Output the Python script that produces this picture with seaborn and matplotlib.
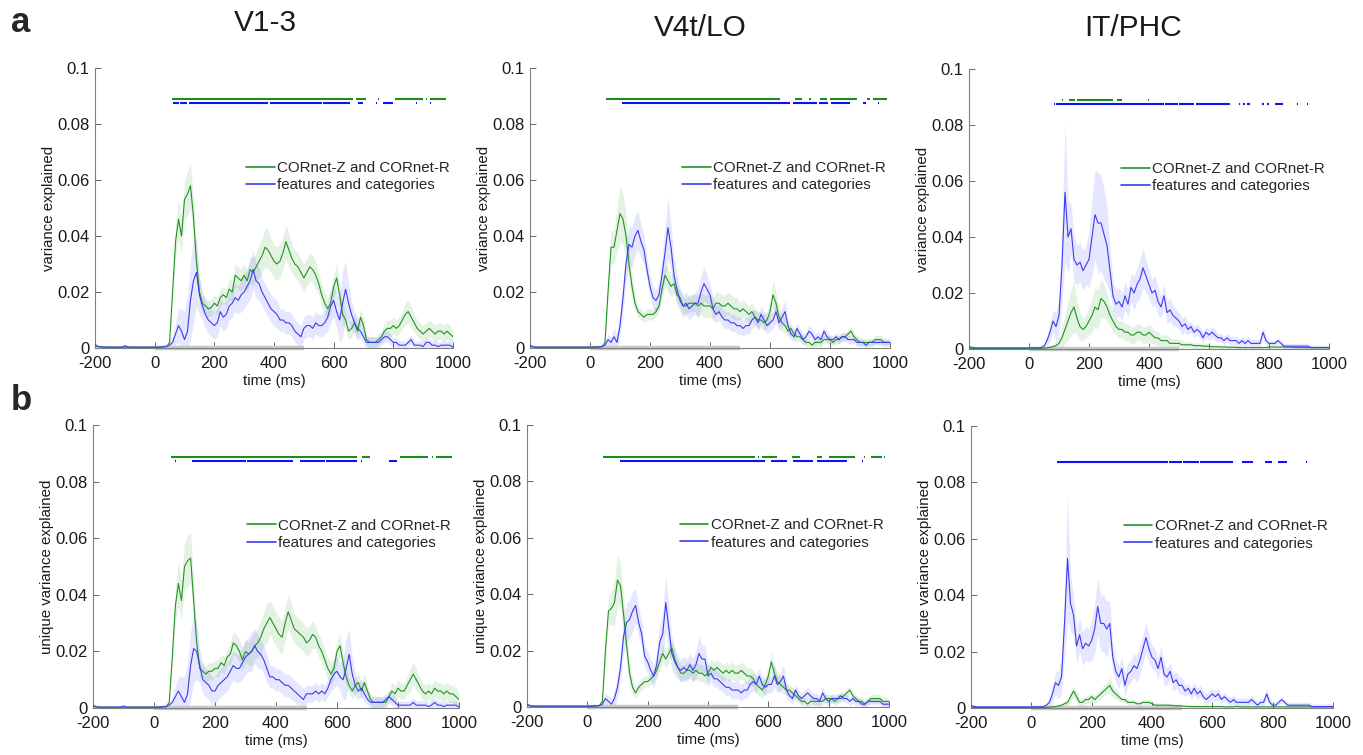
import numpy as np
import pandas as pd
import matplotlib
matplotlib.use("Agg")
import matplotlib.pyplot as plt
from matplotlib.ticker import FuncFormatter
import seaborn as sns

# time axis (ms), one sample every 10 ms
time_ms = list(range(-200, 1001, 10))

# all curve values below are in units of 0.001 (variance explained)
# ---------- row a : variance explained ----------
v1_a_net = [0.5, 0.5, 0.4, 0.3, 0.3, 0.3, 0.3, 0.3, 0.3, 0.3,
            0.3, 0.3, 0.3, 0.3, 0.3, 0.3, 0.3, 0.3, 0.3, 0.3,
            0.3, 0.3, 0.3, 0.4, 0.5, 2, 20, 38, 46, 40,
            53, 55, 58, 47, 31, 20, 16, 15, 14, 14.5,
            16, 15, 18, 19, 18, 21, 20, 26, 25, 24,
            26, 24, 28, 27, 29, 31, 33, 36, 35, 33,
            31, 30, 31, 34, 38, 35, 32, 30, 29, 27,
            25, 27, 29, 28, 26, 23, 19, 16, 14, 16,
            22, 25, 19, 12, 10, 6, 7, 9, 6, 11,
            8, 3, 2, 2, 2, 3, 4, 6, 7, 7,
            8, 7, 8, 10, 12, 13, 11, 9, 7, 6,
            5, 6, 7, 6, 5, 6, 6, 5, 6, 5,
            4]
v1_a_net_err = [0.3] * 20 + [
            0.3, 0.3, 0.3, 0.3, 0.3, 1, 3, 6, 7, 6,
            7, 8, 8, 7, 5, 4, 3, 3, 3, 3,
            3, 3, 3, 3, 3, 4, 4, 4, 4, 4,
            4, 4, 5, 5, 5, 6, 6, 7, 7, 6,
            6, 6, 6, 6, 6, 6, 5, 5, 5, 5,
            5, 5, 5, 5, 5, 4, 4, 4, 4, 4,
            4, 5, 4, 4, 3, 3, 3, 3, 3, 3,
            3, 2, 2, 2, 2, 2, 2, 3, 3, 3,
            3, 3, 3, 3, 4, 4, 4, 3, 3, 3,
            3, 3, 3, 3, 3, 3, 3, 3, 3, 3,
            2]
v1_a_feat = [1.2, 0.6, 0.4, 0.4, 0.3, 0.3, 0.3, 0.3, 0.3, 0.3,
             0.8, 0.4, 0.3, 0.3, 0.3, 0.3, 0.3, 0.3, 0.3, 0.3,
             0.3, 0.3, 0.3, 0.5, 0.6, 1, 2, 5, 8, 6,
             3, 6, 17, 24, 27, 19, 15, 12, 10, 9,
             8, 9, 13, 11, 12, 15, 16, 18, 17, 19,
             20, 22, 24, 28, 24, 23, 20, 18, 16, 14,
             13, 12, 10, 10, 9, 9, 8, 6, 5, 4,
             7, 8, 8, 7, 9, 8, 8, 9, 11, 15,
             17, 13, 10, 16, 21, 16, 12, 9, 7, 6,
             4, 2, 2, 2, 2, 2, 3, 4, 4, 3,
             2, 2, 1, 1, 1, 2, 3, 1, 1, 1,
             0.5, 2, 2, 1, 1, 0.5, 1, 1, 1, 1,
             0.3]
v1_a_feat_err = [0.5] * 20 + [
             0.5, 0.5, 0.5, 0.5, 0.5, 1, 2, 4, 6, 8,
             10, 12, 14, 15, 12, 7, 5, 5, 5, 5,
             5, 5, 5, 5, 5, 5, 5, 5, 5, 6,
             6, 6, 7, 7, 6, 6, 5, 5, 5, 5,
             5, 5, 4, 4, 4, 4, 4, 4, 4, 4,
             4, 4, 4, 4, 4, 4, 4, 4, 5, 6,
             6, 6, 8, 12, 10, 7, 5, 4, 4, 3,
             2, 2, 2, 2, 2, 2, 2, 2, 2, 2,
             1.5, 1.5, 1.5, 1.5, 1.5, 1.5, 1.5, 1.5, 1.5, 1.5,
             1.5, 1.5, 1.5, 1.5, 1.5, 1.5, 1.5, 1.5, 1.5, 1.5,
             1]

v4_a_net = [0.5, 0.4] + [0.3] * 18 + [
            0.3, 0.3, 0.3, 0.4, 0.5, 2, 20, 36, 36, 42,
            48, 46, 40, 30, 22, 16, 13, 12, 11, 12,
            12, 12, 13, 15, 21, 26, 24, 22, 23, 19,
            18, 15, 15, 16, 16, 16, 15, 16, 15, 15,
            15, 14, 16, 16, 15, 15, 16, 15, 14, 14,
            13, 14, 13, 12, 13, 11, 10, 10, 9, 10,
            13, 19, 16, 11, 9, 8, 6, 7, 5, 4,
            4, 3, 2, 2, 1, 2, 2, 2, 3, 3,
            3, 2, 3, 3, 4, 4, 5, 6, 4, 3,
            2, 2, 2, 2, 2, 3, 3, 3, 2, 2,
            2]
v4_a_net_err = [0.3] * 20 + [
            0.3, 0.3, 0.3, 0.3, 0.3, 1, 4, 6, 6, 8,
            10, 9, 8, 6, 5, 3, 2, 2, 2, 2,
            2, 2, 2, 2, 3, 4, 4, 4, 3, 3,
            3, 3, 3, 3, 3, 3, 4, 4, 4, 4,
            4, 4, 4, 4, 4, 4, 4, 4, 4, 4,
            3, 3, 3, 3, 3, 3, 3, 3, 3, 3,
            4, 5, 4, 3, 3, 3, 2, 2, 2, 2] + [1.5] * 30 + [1]
v4_a_feat = [1.0, 0.5] + [0.3] * 18 + [
             0.3, 0.3, 0.3, 0.4, 0.5, 1, 3, 2, 4, 2,
             8, 18, 30, 37, 36, 40, 42, 38, 35, 28,
             22, 18, 17, 19, 26, 34, 43, 36, 26, 21,
             17, 15, 16, 14, 15, 16, 16, 20, 23, 21,
             19, 14, 12, 13, 11, 10, 10, 9, 9, 8,
             8, 7, 8, 8, 10, 11, 9, 12, 10, 8,
             9, 10, 13, 9, 11, 13, 8, 5, 4, 7,
             5, 3, 4, 6, 5, 3, 4, 3, 6, 4,
             3, 3, 4, 3, 4, 4, 3, 3, 3, 2,
             2, 2, 1, 2, 2, 2, 2, 2, 2, 2,
             2]
v4_a_feat_err = [0.5] * 20 + [
             0.5, 0.5, 0.5, 0.5, 0.5, 1, 2, 2, 3, 3,
             4, 5, 6, 7, 7, 7, 7, 6, 5, 4,
             4, 4, 4, 5, 7, 9, 11, 8, 6, 5,
             4, 4, 4, 4, 4, 4, 5, 6, 6, 5,
             4, 4, 3, 3, 3, 3, 3, 3, 3, 3,
             3, 3, 3, 3, 3, 3, 3, 3, 3, 3,
             3, 3, 4, 3, 3, 4, 3, 2, 2, 2,
             2, 2, 2, 2, 2, 2, 2, 2, 2, 2] + [1.5] * 10 + [1] * 11

it_a_net = [0.2] * 20 + [
            0.2, 0.2, 0.2, 0.2, 0.2, 0.3, 0.4, 0.6, 0.8, 1.2,
            2, 4, 7, 10, 13, 15, 11, 8, 7, 8,
            10, 12, 15, 14, 18, 17, 15, 12, 10, 8,
            7, 7, 6, 6, 5, 5, 6, 6, 5, 5,
            6, 5, 4, 4, 3, 3, 3, 2, 2, 2,
            2, 1.5, 1.5, 1.5, 1.5, 1.2, 1.2, 1.2, 1, 1,
            1, 0.8, 0.8, 0.8, 0.7, 0.7, 0.7, 0.6, 0.6, 0.6,
            0.5, 0.5, 0.5, 0.5, 0.5, 0.5, 0.5, 0.5, 0.5, 0.5,
            0.7, 0.7, 0.7, 0.7, 0.7, 0.7, 0.7, 0.7, 0.6, 0.6,
            0.5, 0.5, 0.5, 0.5, 0.5, 0.5, 0.5, 0.5, 0.5, 0.5,
            0.5]
it_a_net_err = [0.2] * 20 + [
            0.2, 0.2, 0.2, 0.2, 0.2, 0.3, 0.5, 1, 1, 2,
            3, 4, 5, 7, 8, 9, 6, 5, 4, 4,
            5, 6, 7, 7, 7, 6, 5, 4, 4, 3,
            3, 3, 3, 3, 3, 3, 3, 3, 3, 3,
            3, 3, 2.5, 2.5, 2, 2, 2, 2, 1.5, 1.5,
            1.5, 1.5, 1, 1, 1, 1, 1, 1, 1, 1] + [0.7] * 10 + [0.5] * 31
it_a_feat = [0.8, 0.6] + [0.4] * 18 + [
             0.4, 0.4, 0.4, 0.4, 0.5, 1, 3, 6, 10, 8,
             12, 30, 56, 40, 43, 32, 30, 31, 28, 30,
             32, 40, 48, 45, 45, 41, 37, 28, 19, 16,
             17, 15, 19, 16, 22, 20, 23, 25, 29, 26,
             23, 20, 21, 17, 15, 19, 13, 14, 12, 11,
             10, 8, 9, 7, 8, 6, 7, 6, 4, 6,
             5, 6, 5, 4, 4, 3, 4, 3, 3, 3,
             2, 3, 2, 3, 2, 2, 2, 2, 6, 3,
             2, 2, 2, 3, 2, 1, 1, 1, 1, 1,
             1, 1, 1, 1, 0.5, 0.5, 0.5, 0.5, 0.5, 0.5,
             0.5]
it_a_feat_err = [0.5] * 20 + [
             0.5, 0.5, 0.5, 0.5, 0.5, 1, 2, 3, 4, 5,
             6, 14, 25, 13, 9, 8, 7, 7, 7, 7,
             10, 14, 16, 18, 17, 16, 14, 8, 5, 5,
             5, 5, 5, 5, 5, 6, 6, 7, 7, 6,
             5, 5, 5, 5, 4, 4, 4, 4, 4, 3,
             3, 3, 3, 2, 2, 2, 2, 2, 2, 2,
             2, 2, 2, 1.5, 1.5, 1.5, 1.5, 1.5, 1.5, 1.5,
             1.5, 1.5, 1.5, 1.5, 1.5, 1.5, 1.5, 1.5, 2, 1.5] + [1] * 20 + [0.5]

# ---------- row b : unique variance explained ----------
v1_b_net = [0.5, 0.4] + [0.3] * 18 + [
            0.3, 0.3, 0.3, 0.4, 0.5, 2, 18, 36, 44, 38,
            50, 52, 53, 38, 23, 14, 13, 12, 13, 13,
            14, 14, 16, 15, 18, 19, 23, 22, 20, 17,
            20, 19, 20, 22, 23, 25, 28, 30, 32, 30,
            28, 26, 25, 30, 34, 31, 28, 27, 26, 25,
            23, 24, 26, 25, 22, 20, 17, 14, 12, 14,
            20, 22, 16, 11, 8, 6, 8, 9, 6, 9,
            6, 3, 2, 2, 2, 2, 2, 4, 6, 5,
            7, 6, 6, 8, 10, 12, 10, 8, 6, 5,
            6, 5, 7, 6, 6, 5, 6, 5, 5, 4,
            3]
v1_b_net_err = [0.3] * 20 + [
            0.3, 0.3, 0.3, 0.3, 0.3, 1, 3, 6, 8, 7,
            8, 9, 9, 7, 5, 3, 3, 3, 3, 3,
            3, 3, 3, 3, 3, 4, 4, 4, 4, 4,
            4, 4, 5, 5, 5, 6, 6, 7, 6, 6,
            6, 6, 6, 6, 6, 6, 5, 5, 5, 5,
            5, 5, 5, 4, 4, 4, 4, 4, 4, 4,
            4, 4, 4, 3, 3, 3, 3, 3, 3, 3,
            2, 2, 2, 2, 2, 2, 2, 2, 3, 3,
            3, 3, 3, 3, 4, 4, 4, 3, 3, 3] + [3] * 10 + [2]
v1_b_feat = [1.0, 0.5, 0.3, 0.3, 0.3, 0.3, 0.3, 0.3, 0.3, 0.3,
             0.7, 0.3, 0.3, 0.3, 0.3, 0.3, 0.3, 0.3, 0.3, 0.3,
             0.3, 0.3, 0.3, 0.5, 0.5, 1, 2, 4, 6, 4,
             2, 5, 15, 21, 20, 15, 10, 9, 8, 6,
             6, 8, 9, 10, 11, 13, 15, 14, 14, 16,
             18, 19, 20, 22, 20, 19, 17, 14, 11, 11,
             10, 10, 9, 8, 8, 7, 6, 5, 4, 3,
             5, 5, 5, 6, 5, 6, 5, 7, 10, 12,
             13, 11, 10, 14, 19, 12, 8, 6, 7, 5,
             3, 2, 2, 2, 2, 2, 3, 4, 3, 2,
             1, 1, 1, 1, 1, 2, 1, 1, 1, 1,
             0.5, 1, 2, 1, 1, 0.5, 1, 1, 1, 1,
             0.3]
v1_b_feat_err = [0.5] * 20 + [
             0.5, 0.5, 0.5, 0.5, 0.5, 1, 2, 4, 5, 7,
             9, 11, 12, 12, 10, 6, 5, 5, 5, 5,
             5, 5, 5, 5, 5, 5, 5, 5, 5, 6,
             6, 6, 7, 6, 6, 5, 5, 5, 4, 4,
             4, 4, 4, 4, 4, 4, 4, 4, 4, 4,
             3, 3, 3, 3, 3, 3, 3, 3, 4, 5,
             5, 5, 7, 11, 9, 6, 4, 3, 3, 3] + [2] * 10 + [1.5] * 20 + [1]

v4_b_net = [0.5, 0.4] + [0.3] * 18 + [
            0.3, 0.3, 0.3, 0.4, 0.5, 2, 20, 34, 35, 37,
            45, 43, 33, 22, 12, 7, 5, 7, 8, 9,
            9, 10, 11, 13, 16, 19, 17, 19, 21, 17,
            14, 12, 12, 13, 13, 12, 13, 12, 12, 11,
            12, 14, 13, 14, 13, 12, 13, 12, 13, 12,
            12, 13, 12, 11, 11, 10, 8, 7, 6, 8,
            11, 16, 12, 9, 8, 7, 6, 6, 5, 4,
            3, 2, 2, 1, 2, 2, 2, 2, 2, 3,
            3, 3, 2, 3, 3, 4, 5, 6, 4, 3,
            2, 2, 1, 2, 3, 3, 3, 3, 2, 2,
            2]
v4_b_net_err = [0.3] * 20 + [
            0.3, 0.3, 0.3, 0.3, 0.3, 1, 4, 5, 6, 8,
            9, 8, 7, 5, 4, 3, 2, 2, 2, 2,
            2, 2, 2, 2, 3, 3, 3, 3, 3, 3] + [3] * 30 + [
            3, 4, 3, 3, 3, 2, 2, 2, 2, 2] + [1.5] * 30 + [1]
v4_b_feat = [1.0, 0.5] + [0.3] * 18 + [
             0.3, 0.3, 0.3, 0.4, 0.5, 1, 3, 2, 1, 3,
             7, 14, 25, 30, 31, 34, 36, 30, 26, 18,
             16, 13, 11, 15, 23, 26, 37, 28, 19, 16,
             14, 13, 14, 13, 15, 13, 15, 19, 17, 17,
             11, 12, 10, 10, 9, 8, 7, 7, 6, 6,
             6, 5, 6, 6, 8, 9, 8, 11, 8, 7,
             8, 8, 11, 8, 9, 11, 6, 4, 3, 6,
             4, 3, 4, 5, 4, 3, 3, 2, 5, 3,
             2, 3, 3, 3, 4, 3, 3, 2, 3, 2,
             2, 1, 1, 2, 2, 2, 2, 2, 1, 1,
             1]
v4_b_feat_err = [0.5] * 20 + [
             0.5, 0.5, 0.5, 0.5, 0.5, 1, 2, 2, 2, 3,
             4, 5, 6, 7, 7, 7, 6, 5, 5, 4,
             4, 4, 4, 5, 6, 8, 10, 8, 6, 5,
             4, 4, 4, 4, 4, 4, 5, 6, 5, 5,
             4, 3, 3, 3, 3, 3, 3, 3, 3, 3] + [3] * 10 + [
             3, 3, 4, 3, 3, 4, 3, 2, 2, 2] + [2] * 10 + [1.5] * 10 + [1] * 11

it_b_net = [0.2] * 20 + [
            0.2, 0.2, 0.2, 0.2, 0.2, 0.2, 0.3, 0.4, 0.5, 0.7,
            1, 1.5, 2, 4, 6, 4, 2, 2, 3, 3,
            4, 3, 4, 5, 6, 7, 8, 6, 5, 4,
            3, 3, 2, 2, 2, 1.5, 1.5, 2, 2, 2,
            1.5, 1, 1, 1, 1, 1, 1, 0.8, 0.8, 0.8,
            0.7, 0.6, 0.6, 0.5, 0.5, 0.5, 0.5, 0.5, 0.5, 0.5,
            0.5, 0.5, 0.5, 0.5, 0.4, 0.4, 0.4, 0.4, 0.6, 0.4] + [0.4] * 30 + [0.3]
it_b_net_err = [0.2] * 28 + [0.3, 0.5,
            0.7, 1, 1, 2, 2, 2, 1.5, 1.5, 1.5, 1.5,
            1.5, 1.5, 1.5, 2, 2, 2, 3, 2, 2, 1.5] + [1] * 12 + [0.7] * 8 + [0.5] * 10 + [0.3] * 41
it_b_feat = [0.8, 0.6] + [0.4] * 18 + [
             0.4, 0.4, 0.4, 0.4, 0.5, 1, 2, 5, 9, 8,
             11, 30, 53, 37, 33, 22, 26, 21, 23, 22,
             24, 28, 36, 30, 30, 28, 30, 18, 13, 11,
             14, 8, 12, 13, 15, 14, 17, 21, 25, 21,
             18, 17, 14, 18, 12, 11, 13, 9, 10, 8,
             8, 6, 7, 5, 7, 5, 6, 4, 3, 4,
             5, 4, 5, 3, 4, 3, 2, 3, 2, 2,
             2, 2, 2, 3, 2, 1, 2, 2, 5, 2,
             1, 1, 2, 3, 2, 1, 1, 1, 1, 1,
             1, 1, 1, 0.5, 0.5, 0.5, 0.5, 0.5, 0.5, 0.5,
             0.5]
it_b_feat_err = [0.5] * 20 + [
             0.5, 0.5, 0.5, 0.5, 0.5, 1, 2, 3, 4, 5,
             6, 12, 22, 10, 7, 6, 6, 6, 6, 6,
             7, 9, 10, 10, 10, 10, 8, 5, 4, 4,
             4, 4, 4, 4, 4, 5, 5, 5, 5, 5,
             4, 4, 4, 4, 4, 3, 3, 3, 3, 3,
             3, 2, 2, 2, 2, 2, 2, 2, 2, 2,
             2, 2, 2, 1.5, 1.5, 1.5, 1.5, 1.5, 1.5, 1.5,
             1.5, 1.5, 1.5, 1.5, 1.5, 1.5, 1.5, 1.5, 2, 1.5] + [1] * 20 + [0.5]

# significant time windows (ms): (start, end)
v1_a_net_sig = [(59, 664), (675, 709), (748, 752), (806, 900), (910, 913), (923, 977)]
v1_a_feat_sig = [(61, 80), (85, 108), (115, 380), (385, 560), (565, 655), (680, 698),
                 (742, 745), (766, 800), (876, 879), (923, 926)]
v4_a_net_sig = [(53, 633), (683, 707), (731, 735), (767, 790), (800, 890), (923, 933), (943, 990)]
v4_a_feat_sig = [(106, 667), (677, 757), (763, 793), (803, 867), (910, 920), (959, 963)]
it_a_net_sig = [(111, 114), (133, 153), (160, 280), (293, 310), (396, 399)]
it_a_feat_sig = [(83, 86), (90, 450), (452, 497), (500, 550), (555, 670), (700, 703), (712, 720),
                 (725, 737), (777, 783), (793, 800), (820, 847), (893, 897), (926, 930)]
v1_b_net_sig = [(56, 665), (681, 708), (806, 898), (912, 915), (925, 976)]
v1_b_feat_sig = [(70, 73), (124, 300), (305, 456), (479, 560), (565, 665), (680, 683), (770, 796)]
v4_b_net_sig = [(51, 556), (565, 568), (578, 628), (677, 705), (730, 733), (761, 778),
                (801, 887), (918, 921), (939, 976), (985, 988)]
v4_b_feat_sig = [(108, 589), (608, 661), (682, 749), (760, 860), (912, 915)]
it_b_net_sig = []
it_b_feat_sig = [(84, 87), (90, 452), (455, 500), (503, 555), (560, 668), (697, 735),
                 (775, 797), (818, 846), (889, 892), (912, 915)]

stim_window = (0, 500)
region_titles = ["V1-3", "V4t/LO", "IT/PHC"]
row_ylabels = ["variance explained", "unique variance explained"]
series_names = ["CORnet-Z and CORnet-R", "features and categories"]

panels = [
    (0, 0, v1_a_net, v1_a_net_err, v1_a_feat, v1_a_feat_err, v1_a_net_sig, v1_a_feat_sig),
    (0, 1, v4_a_net, v4_a_net_err, v4_a_feat, v4_a_feat_err, v4_a_net_sig, v4_a_feat_sig),
    (0, 2, it_a_net, it_a_net_err, it_a_feat, it_a_feat_err, it_a_net_sig, it_a_feat_sig),
    (1, 0, v1_b_net, v1_b_net_err, v1_b_feat, v1_b_feat_err, v1_b_net_sig, v1_b_feat_sig),
    (1, 1, v4_b_net, v4_b_net_err, v4_b_feat, v4_b_feat_err, v4_b_net_sig, v4_b_feat_sig),
    (1, 2, it_b_net, it_b_net_err, it_b_feat, it_b_feat_err, it_b_net_sig, it_b_feat_sig),
]

# axes boxes in pixels: left, top, right, bottom
boxes = {
    (0, 0): (95, 68, 453, 348), (0, 1): (530, 68, 890, 348), (0, 2): (969, 69, 1329, 349),
    (1, 0): (93, 425, 459, 708), (1, 1): (527, 425, 889, 707), (1, 2): (971, 426, 1333, 708),
}

green_line, blue_line = "#229422", "#3c3cf2"
green_fill, blue_fill = "#2ca02c", "#4444ff"
green_sig, blue_sig = "#1c8c1c", "#1010ff"

sns.set_style("ticks")
plt.rcParams['font.family'] = ['Liberation Sans', 'DejaVu Sans']
plt.rcParams['axes.unicode_minus'] = False

W, H = 1363, 755
fig = plt.figure(figsize=(W / 100, H / 100), dpi=100)

for row, col, net, net_err, feat, feat_err, net_sig, feat_sig in panels:
    l, t, r, b = boxes[(row, col)]
    ax = fig.add_axes([l / W, 1 - b / H, (r - l) / W, (b - t) / H])

    df = pd.DataFrame({
        "time": time_ms * 2,
        "value": np.r_[net, feat] * 1e-3,
        "err": np.r_[net_err, feat_err] * 1e-3,
        "model": [series_names[0]] * len(time_ms) + [series_names[1]] * len(time_ms),
    })
    for name, fc in zip(series_names, [green_fill, blue_fill]):
        d = df[df.model == name]
        ax.fill_between(d.time, d.value - d.err, d.value + d.err, color=fc,
                        alpha=0.13, lw=0, zorder=1)
    sns.lineplot(data=df, x="time", y="value", hue="model", palette=[green_line, blue_line],
                 lw=0.8, ax=ax, zorder=3, legend=False)

    # stimulus presentation bar
    ax.plot(stim_window, (0, 0), color="#c8c8c8", lw=3.2, solid_capstyle="butt",
            clip_on=False, zorder=2)

    # significance markers
    for sig, yv, c in [(net_sig, 0.0888, green_sig), (feat_sig, 0.0874, blue_sig)]:
        if sig:
            s, e = zip(*sig)
            ax.hlines([yv] * len(s), s, e, color=c, lw=1.5)

    ax.set_xlim(-200, 1000)
    ax.set_ylim(0, 0.1)
    ax.set_xticks(range(-200, 1001, 200))
    ax.set_yticks([0, 0.02, 0.04, 0.06, 0.08, 0.1])
    ax.yaxis.set_major_formatter(FuncFormatter(lambda v, p: "%g" % round(v, 3)))
    sns.despine(ax=ax)
    for s in ["left", "bottom"]:
        ax.spines[s].set_color("0.5")
        ax.spines[s].set_linewidth(0.8)
    ax.tick_params(direction="in", length=4, width=0.7, color="0.4",
                   labelcolor="0.1", labelsize=12)
    ax.tick_params(axis="x", pad=6)
    ax.tick_params(axis="y", pad=4)
    ax.set_xlabel("time (ms)", fontsize=10.8, color="0.1", labelpad=2)
    ax.set_ylabel(row_ylabels[row], fontsize=10.8, color="0.1", labelpad=1)

    handles = [plt.Line2D([], [], color=green_line, lw=1.2),
               plt.Line2D([], [], color=blue_line, lw=1.2)]
    ax.legend(handles, series_names, loc="upper left", bbox_to_anchor=(0.405, 0.69),
              frameon=False, fontsize=10.9, handlelength=1.9, handletextpad=0.15,
              labelspacing=0.2, borderaxespad=0)

title_x = [265, 700, 1133]
title_y = [23, 28, 28]
for name, x, y in zip(region_titles, title_x, title_y):
    fig.text(x / W, 1 - y / H, name, ha="center", va="center", fontsize=21.5, color="0.1")
fig.text(21 / W, 1 - 22 / H, "a", ha="center", va="center", fontsize=25, fontweight="bold")
fig.text(21 / W, 1 - 400 / H, "b", ha="center", va="center", fontsize=25, fontweight="bold")

fig.savefig("out.png", dpi=100)
